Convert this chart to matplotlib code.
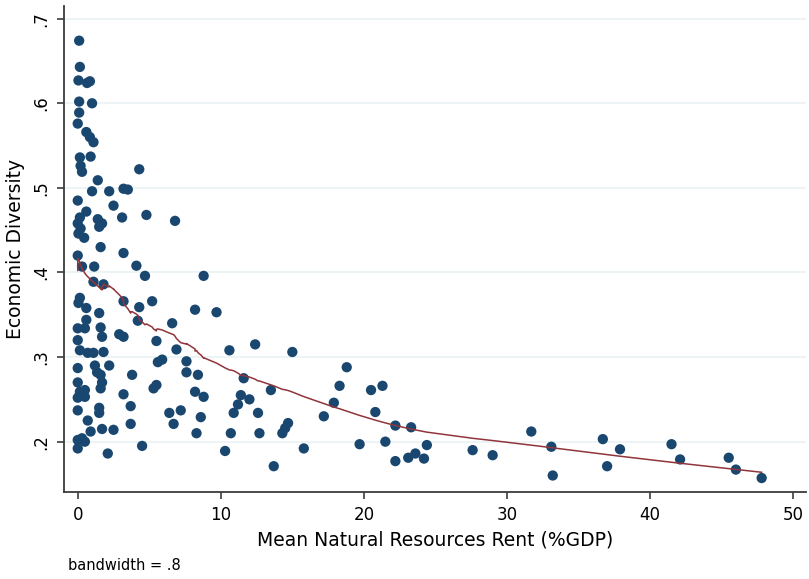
import numpy as np
import matplotlib
matplotlib.use("Agg")
import matplotlib.pyplot as plt

plt.rcParams['font.family'] = ['DejaVu Sans']

# Mean Natural Resources Rent (%GDP)
rent = [
    0.1, 0.15, 0.05, 0.65, 0.85, 0.1, 1.0, 0.1, 0.0, 0.6,
    0.85, 1.1, 0.15, 0.9, 0.2, 0.3, 4.3, 1.4, 1.0, 2.2,
    3.2, 3.5, 0.0, 2.5, 0.6, 4.8, 3.1, 6.8, 0.15, 0.0,
    0.2, 0.05, 1.4, 1.7, 1.5, 0.45, 1.6, 3.2, 0.0, 4.1,
    0.3, 1.15, 4.7, 8.8, 1.1, 1.8, 0.15, 0.05, 3.2, 5.2,
    0.6, 1.5, 4.3, 8.2, 4.2, 6.6, 0.0, 0.6, 0.5, 1.6,
    1.7, 2.9, 3.2, 0.0, 5.5, 6.9, 0.15, 0.7, 1.1, 1.8,
    5.9, 5.6, 7.6, 0.0, 1.2, 1.35, 2.2, 1.6, 3.8, 7.6,
    8.4, 0.0, 1.7, 5.5, 5.3, 0.5, 0.15, 0.5, 0.0, 0.0,
    1.6, 3.2, 8.2, 8.8, 3.7, 1.5, 1.5, 6.4, 7.2, 8.6,
    0.7, 3.7, 6.7, 0.9, 1.7, 2.5, 8.3, 0.0, 0.3, 0.5,
    0.0, 2.1, 4.5,
    9.7, 10.6, 12.4, 15.0, 11.6, 13.5, 18.8, 18.3, 11.4, 12.0,
    11.2, 10.9, 12.6, 17.9, 17.2, 14.7, 14.5, 14.3, 10.7, 12.7,
    10.3, 15.8, 19.7, 13.7, 20.5, 21.3, 20.8, 22.2, 23.3, 21.5,
    24.4, 23.6, 23.1, 24.2, 22.2, 27.6, 29.0, 31.7, 33.1, 33.2,
    36.7, 37.0, 37.9, 41.5, 42.1, 45.5, 46.0, 47.8,
]

# Economic Diversity
diversity = [
    .674, .643, .627, .624, .626, .602, .600, .589, .576, .566,
    .560, .554, .536, .537, .526, .519, .522, .509, .496, .496,
    .499, .498, .485, .479, .472, .468, .465, .461, .465, .458,
    .452, .446, .463, .458, .454, .441, .430, .423, .420, .408,
    .407, .407, .396, .396, .389, .386, .370, .364, .366, .366,
    .358, .352, .359, .356, .343, .340, .334, .344, .334, .335,
    .324, .327, .324, .320, .319, .309, .308, .305, .305, .306,
    .297, .294, .295, .287, .290, .282, .290, .279, .279, .282,
    .279, .270, .270, .267, .263, .261, .259, .253, .252, .237,
    .263, .256, .259, .253, .242, .240, .234, .234, .237, .229,
    .225, .221, .221, .212, .215, .214, .210, .202, .204, .200,
    .192, .186, .195,
    .353, .308, .315, .306, .275, .261, .288, .266, .255, .250,
    .244, .234, .234, .246, .230, .222, .216, .210, .210, .210,
    .189, .192, .197, .171, .261, .266, .235, .219, .217, .200,
    .196, .186, .181, .180, .177, .190, .184, .212, .194, .160,
    .203, .171, .191, .197, .179, .181, .167, .157,
]

bandwidth = 0.8
x_ticks = [0, 10, 20, 30, 40, 50]
y_ticks = [.2, .3, .4, .5, .6, .7]
y_ticklabels = ['.2', '.3', '.4', '.5', '.6', '.7']


def stata_lowess(x, y, bw):
    order = np.lexsort((np.asarray(y), np.asarray(x)))
    xs = np.asarray(x, float)[order]
    ys = np.asarray(y, float)[order]
    n = len(xs)
    k = int(np.floor((n * bw - 0.5) / 2))
    out = np.empty(n)
    for i in range(n):
        lo = max(0, i - k)
        hi = min(n - 1, i + k)
        xj = xs[lo:hi + 1]
        yj = ys[lo:hi + 1]
        delta = 1.0001 * max(xs[hi] - xs[i], xs[i] - xs[lo])
        if delta <= 0:
            out[i] = yj.mean()
            continue
        w = (1 - (np.abs(xj - xs[i]) / delta) ** 3) ** 3
        sw = w.sum()
        xm = (w * xj).sum() / sw
        ym = (w * yj).sum() / sw
        sxx = (w * (xj - xm) ** 2).sum()
        if sxx <= 0:
            out[i] = ym
        else:
            b = (w * (xj - xm) * (yj - ym)).sum() / sxx
            out[i] = ym + b * (xs[i] - xm)
    return xs, out


fig = plt.figure(figsize=(8.09, 5.79), dpi=100)
ax = fig.add_axes([64 / 809, 87 / 579, 742 / 809, 486 / 579])

navy = '#1a476f'
maroon = '#90353b'

for yt in y_ticks:
    ax.axhline(yt, color='#eaf2f3', lw=1.2, zorder=0)

ax.scatter(rent, diversity, s=55, color=navy, edgecolors='none', zorder=2)
lx, ly = stata_lowess(rent, diversity, bandwidth)
ax.plot(lx, ly, color=maroon, lw=1.1, zorder=3)

ax.set_xlim(-0.96, 50.9)
ax.set_ylim(0.1405, 0.715)
ax.set_xticks(x_ticks)
ax.set_xticklabels([str(t) for t in x_ticks], fontsize=12)
ax.set_yticks(y_ticks)
ax.set_yticklabels(y_ticklabels, fontsize=12, rotation=90, va='center')

for s in ['top', 'right']:
    ax.spines[s].set_visible(False)
for s in ['left', 'bottom']:
    ax.spines[s].set_color('#3c3c3c')
    ax.spines[s].set_linewidth(1.3)
ax.tick_params(direction='out', length=5, width=1.2, color='#3c3c3c', pad=5)

ax.set_xlabel('Mean Natural Resources Rent (%GDP)', fontsize=13.5, labelpad=5)
ax.set_ylabel('Economic Diversity', fontsize=13.5, labelpad=5)

fig.text(68 / 809, 1 - 566 / 579, 'bandwidth = .8', fontsize=10.5, va='center', ha='left')

fig.savefig('out.png', dpi=100, facecolor='white')
